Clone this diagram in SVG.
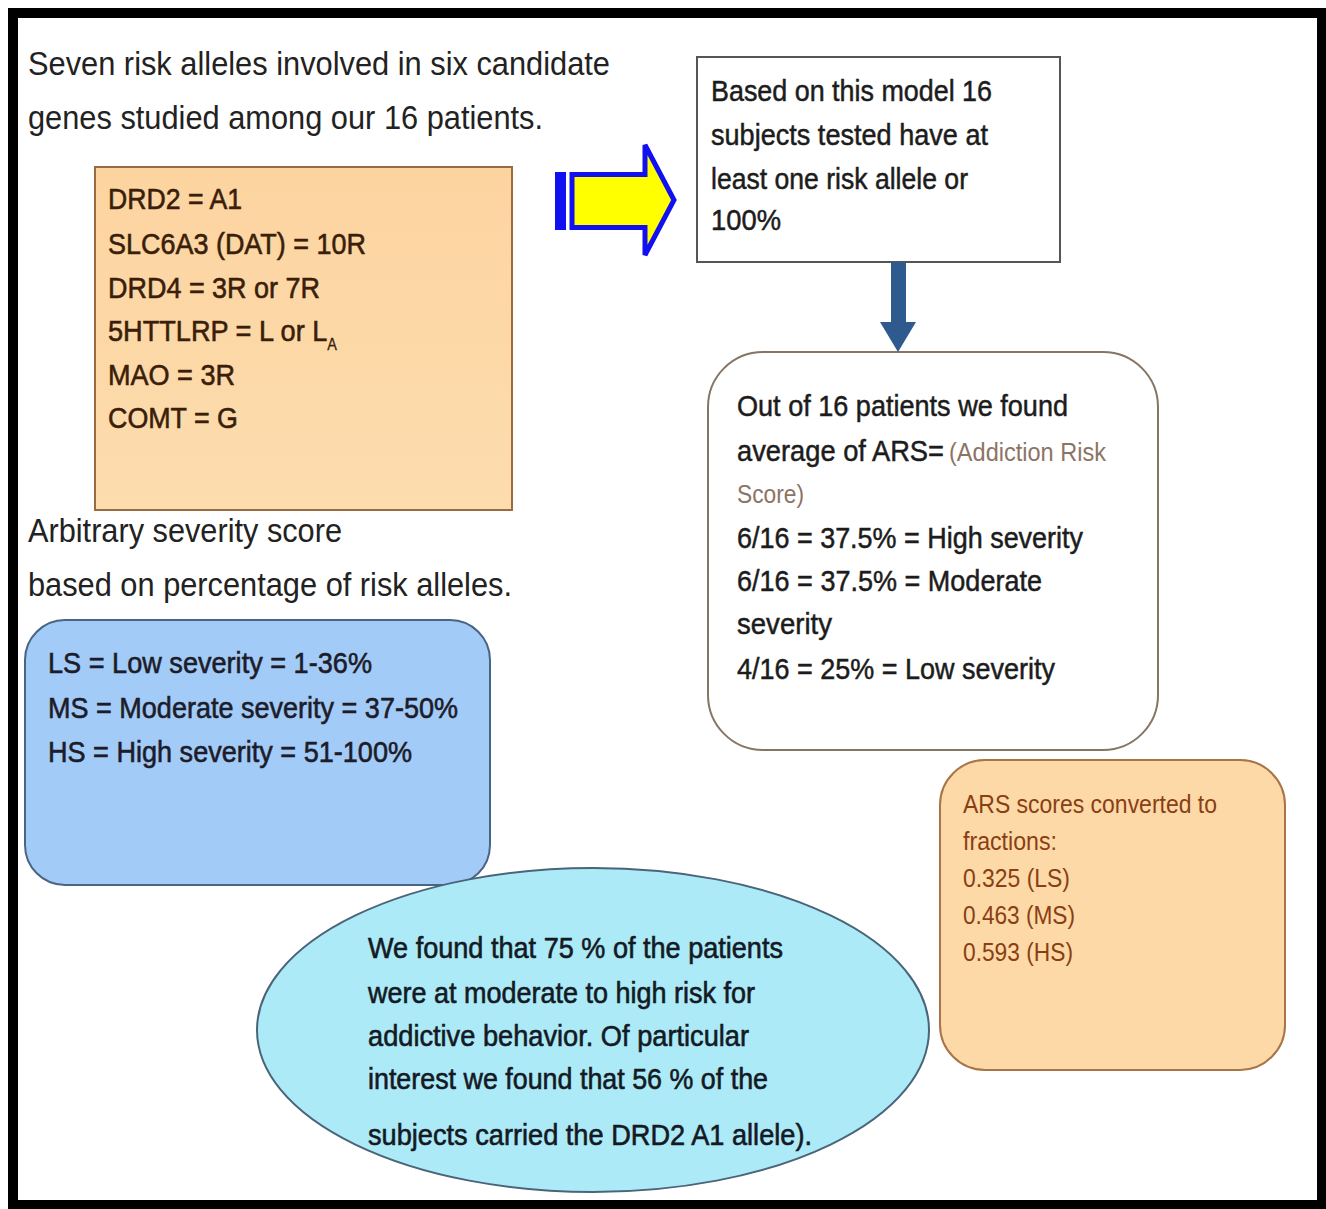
<svg xmlns="http://www.w3.org/2000/svg" width="1326" height="1209" viewBox="0 0 1326 1209">
<defs>
<style>
.t{font-family:"Liberation Sans",Arial,sans-serif;}
.plain{font-size:33px;fill:#222;}
.gene{font-size:30px;fill:#3a1e0a;stroke:#3a1e0a;stroke-width:0.6px;}
.sev{font-size:30px;fill:#1c1c2a;stroke:#1c1c2a;stroke-width:0.6px;}
.res{font-size:30px;fill:#1c1c1c;stroke:#1c1c1c;stroke-width:0.5px;}
.ars{font-size:26px;fill:#8a3e14;}
.light{font-size:25px;fill:#8c7464;}
.ell{font-size:29px;fill:#141a24;stroke:#141a24;stroke-width:0.6px;}
</style>
<linearGradient id="og" x1="0" y1="0" x2="0" y2="1">
<stop offset="0" stop-color="#FCD4A0"/>
<stop offset="1" stop-color="#FDDCAE"/>
</linearGradient>
</defs>
<rect x="0" y="0" width="1326" height="1209" fill="#ffffff"/>
<rect id="frame" x="13" y="13" width="1309" height="1192" fill="none" stroke="#000" stroke-width="10"/>

<g id="title">
<text class="t plain" x="28" y="75" textLength="582" lengthAdjust="spacingAndGlyphs">Seven risk alleles involved in six candidate</text>
<text class="t plain" x="28" y="129" textLength="515" lengthAdjust="spacingAndGlyphs">genes studied among our 16 patients.</text>
</g>

<g id="genes">
<rect x="95" y="167" width="417" height="343" fill="url(#og)" stroke="#9a6a40" stroke-width="2"/>
<text class="t gene" x="108" y="209" textLength="134" lengthAdjust="spacingAndGlyphs">DRD2 = A1</text>
<text class="t gene" x="108" y="254" textLength="258" lengthAdjust="spacingAndGlyphs">SLC6A3 (DAT) = 10R</text>
<text class="t gene" x="108" y="298" textLength="212" lengthAdjust="spacingAndGlyphs">DRD4 = 3R or 7R</text>
<text class="t gene" x="108" y="341" textLength="229" lengthAdjust="spacingAndGlyphs">5HTTLRP = L or L<tspan font-size="16" dy="9" stroke-width="0.3">A</tspan></text>
<text class="t gene" x="108" y="385" textLength="127" lengthAdjust="spacingAndGlyphs">MAO = 3R</text>
<text class="t gene" x="108" y="428" textLength="130" lengthAdjust="spacingAndGlyphs">COMT = G</text>
</g>

<g id="severity-label">
<text class="t plain" x="28" y="542" textLength="314" lengthAdjust="spacingAndGlyphs">Arbitrary severity score</text>
<text class="t plain" x="28" y="596" textLength="484" lengthAdjust="spacingAndGlyphs">based on percentage of risk alleles.</text>
</g>

<g id="severity">
<rect x="25" y="620" width="465" height="265" rx="40" ry="40" fill="#A3CBF7" stroke="#4a6484" stroke-width="2"/>
<text class="t sev" x="48" y="673" textLength="324" lengthAdjust="spacingAndGlyphs">LS = Low severity = 1-36%</text>
<text class="t sev" x="48" y="718" textLength="410" lengthAdjust="spacingAndGlyphs">MS = Moderate severity = 37-50%</text>
<text class="t sev" x="48" y="762" textLength="364" lengthAdjust="spacingAndGlyphs">HS = High severity = 51-100%</text>
</g>

<g id="conclusion">
<ellipse cx="593" cy="1030" rx="336" ry="162" fill="#ADEAF8" stroke="#4a6478" stroke-width="2"/>
<text class="t ell" x="368" y="958" textLength="415" lengthAdjust="spacingAndGlyphs">We found that 75 % of the patients</text>
<text class="t ell" x="368" y="1003" textLength="387" lengthAdjust="spacingAndGlyphs">were at moderate to high risk for</text>
<text class="t ell" x="368" y="1046" textLength="381" lengthAdjust="spacingAndGlyphs">addictive behavior. Of particular</text>
<text class="t ell" x="368" y="1089" textLength="400" lengthAdjust="spacingAndGlyphs">interest we found that 56 % of the</text>
<text class="t ell" x="368" y="1145" textLength="444" lengthAdjust="spacingAndGlyphs">subjects carried the DRD2 A1 allele).</text>
</g>

<g id="model">
<rect x="697" y="57" width="363" height="205" fill="#fff" stroke="#555" stroke-width="2"/>
<text class="t res" x="711" y="101" textLength="281" lengthAdjust="spacingAndGlyphs">Based on this model 16</text>
<text class="t res" x="711" y="145" textLength="277" lengthAdjust="spacingAndGlyphs">subjects tested have at</text>
<text class="t res" x="711" y="189" textLength="257" lengthAdjust="spacingAndGlyphs">least one risk allele or</text>
<text class="t res" x="711" y="230" textLength="70" lengthAdjust="spacingAndGlyphs">100%</text>
</g>

<g id="findings">
<rect x="708" y="352" width="450" height="398" rx="55" ry="55" fill="#fff" stroke="#857565" stroke-width="2"/>
<text class="t res" x="737" y="416" textLength="331" lengthAdjust="spacingAndGlyphs">Out of 16 patients we found</text>
<text class="t res" x="737" y="461" textLength="207" lengthAdjust="spacingAndGlyphs">average of ARS=</text>
<text class="t light" x="949" y="461" textLength="157" lengthAdjust="spacingAndGlyphs">(Addiction Risk</text>
<text class="t light" x="737" y="503" textLength="67" lengthAdjust="spacingAndGlyphs">Score)</text>
<text class="t res" x="737" y="548" textLength="346" lengthAdjust="spacingAndGlyphs">6/16 = 37.5% = High severity</text>
<text class="t res" x="737" y="591" textLength="305" lengthAdjust="spacingAndGlyphs">6/16 = 37.5% = Moderate</text>
<text class="t res" x="737" y="634" textLength="95" lengthAdjust="spacingAndGlyphs">severity</text>
<text class="t res" x="737" y="679" textLength="318" lengthAdjust="spacingAndGlyphs">4/16 = 25% = Low severity</text>
</g>

<g id="fractions">
<rect x="940" y="760" width="345" height="310" rx="45" ry="45" fill="#FCD9A6" stroke="#a87448" stroke-width="2"/>
<text class="t ars" x="963" y="813" textLength="254" lengthAdjust="spacingAndGlyphs">ARS scores converted to</text>
<text class="t ars" x="963" y="850" textLength="94" lengthAdjust="spacingAndGlyphs">fractions:</text>
<text class="t ars" x="963" y="887" textLength="107" lengthAdjust="spacingAndGlyphs">0.325 (LS)</text>
<text class="t ars" x="963" y="924" textLength="112" lengthAdjust="spacingAndGlyphs">0.463 (MS)</text>
<text class="t ars" x="963" y="961" textLength="110" lengthAdjust="spacingAndGlyphs">0.593 (HS)</text>
</g>

<g id="connectors">
<rect x="555" y="172" width="11" height="58" fill="#1010F0"/>
<path d="M572 174.5 L645 174.5 L645 145 L674 200 L645 255 L645 227.5 L572 227.5 Z" fill="#FFFF00" stroke="#1010F0" stroke-width="5" stroke-linejoin="miter"/>
<path d="M891 262 L906 262 L906 322 L916 322 L898 352 L880 322 L891 322 Z" fill="#2E5A8E"/>
</g>
</svg>
